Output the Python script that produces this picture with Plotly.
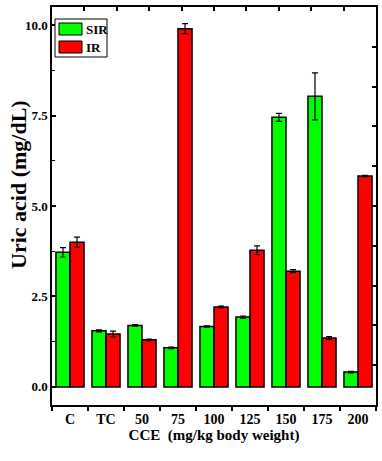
import plotly.graph_objects as go

categories = ["C", "TC", "50", "75", "100", "125", "150", "175", "200"]
sir_values = [3.72, 1.55, 1.70, 1.08, 1.67, 1.93, 7.45, 8.03, 0.41]
sir_errors = [0.13, 0.03, 0.02, 0.02, 0.02, 0.03, 0.11, 0.65, 0.02]
ir_values = [4.00, 1.46, 1.30, 9.90, 2.21, 3.78, 3.20, 1.35, 5.83]
ir_errors = [0.14, 0.08, 0.02, 0.14, 0.02, 0.12, 0.04, 0.04, 0.02]

FONT = "Liberation Serif"
GREEN = "#00ff00"
RED = "#ff0000"

fig = go.Figure()
err_style = dict(type="data", visible=True, color="black", thickness=1.2, width=3)
fig.add_trace(go.Bar(x=categories, y=sir_values, name="SIR", marker=dict(color=GREEN, line=dict(color="black", width=1.5)),
                     error_y=dict(array=sir_errors, **err_style)))
fig.add_trace(go.Bar(x=categories, y=ir_values, name="IR", marker=dict(color=RED, line=dict(color="black", width=1.5)),
                     error_y=dict(array=ir_errors, **err_style)))
# invisible trace for secondary frame axes
fig.add_trace(go.Scatter(x=[0], y=[0], xaxis="x2", yaxis="y2", mode="markers", marker=dict(opacity=0), showlegend=False, hoverinfo="skip"))

fig.update_layout(
    width=382, height=461,
    margin=dict(l=52, r=6, t=7, b=56, autoexpand=False),
    paper_bgcolor="white", plot_bgcolor="white",
    barmode="group", bargap=0.22, bargroupgap=0,
    showlegend=False,
    font=dict(family=FONT, color="black"),
    xaxis=dict(
        type="category", tickson="boundaries", ticks="outside", ticklen=4, tickwidth=1.5, tickcolor="black",
        showline=True, linecolor="black", linewidth=1.5, mirror=True, showgrid=False, automargin=False,
        tickfont=dict(family=FONT, size=14, color="black", weight="bold"),
        title=dict(text="CCE  (mg/kg body weight)", font=dict(family=FONT, size=15, color="black", weight="bold"), standoff=2),
    ),
    yaxis=dict(
        range=[-0.5, 10.5], tickmode="array", tickvals=[0, 2.5, 5, 7.5, 10], ticktext=["0.0", "2.5", "5.0", "7.5", "10.0"],
        ticks="inside", ticklen=4, tickwidth=1.5, tickcolor="black",
        minor=dict(dtick=1.25, tick0=0, ticks="inside", ticklen=3, tickwidth=1.2, tickcolor="black", showgrid=False),
        showline=True, linecolor="black", linewidth=1.5, mirror=True, showgrid=False, zeroline=False, automargin=False,
        tickfont=dict(family=FONT, size=13, color="black", weight="bold"),
    ),
    xaxis2=dict(overlaying="x", side="top", range=[0, 10], tickmode="linear", tick0=0, dtick=1, automargin=False,
                ticks="inside", ticklen=4, tickwidth=1.5, tickcolor="black", showticklabels=False,
                showgrid=False, zeroline=False, showline=False),
    yaxis2=dict(overlaying="y", side="right", range=[0, 10], tickmode="linear", tick0=0, dtick=1, automargin=False,
                ticks="inside", ticklen=4, tickwidth=1.5, tickcolor="black", showticklabels=False,
                showgrid=False, zeroline=False, showline=False),
)

# Legend drawn manually
pw = 382 - 52 - 6
ph = 461 - 7 - 56
def px(x):
    return (x - 52) / pw
def py(y):
    return 1 - (y - 7) / ph

# Y-axis title
fig.add_annotation(xref="paper", yref="paper", x=px(18), y=py(185), text="Uric acid (mg/dL)", textangle=-90,
                   showarrow=False, xanchor="center", yanchor="middle",
                   font=dict(family=FONT, size=22, color="black", weight="bold"))

fig.add_shape(type="rect", xref="paper", yref="paper", x0=px(55), x1=px(107), y0=py(57), y1=py(19),
              line=dict(color="black", width=1), fillcolor="white", layer="above")
for name, color, yc in [("SIR", GREEN, 29), ("IR", RED, 47)]:
    fig.add_shape(type="rect", xref="paper", yref="paper", x0=px(59), x1=px(82), y0=py(yc + 6), y1=py(yc - 6),
                  line=dict(color="black", width=1), fillcolor=color, layer="above")
    fig.add_annotation(xref="paper", yref="paper", x=px(84), y=py(yc), text=name, showarrow=False,
                       xanchor="left", yanchor="middle", font=dict(family=FONT, size=13, color="black", weight="bold"))

fig.write_html("out.html", config={"displayModeBar": False},
               post_script="document.body.style.margin='0';document.body.style.overflow='hidden';")
